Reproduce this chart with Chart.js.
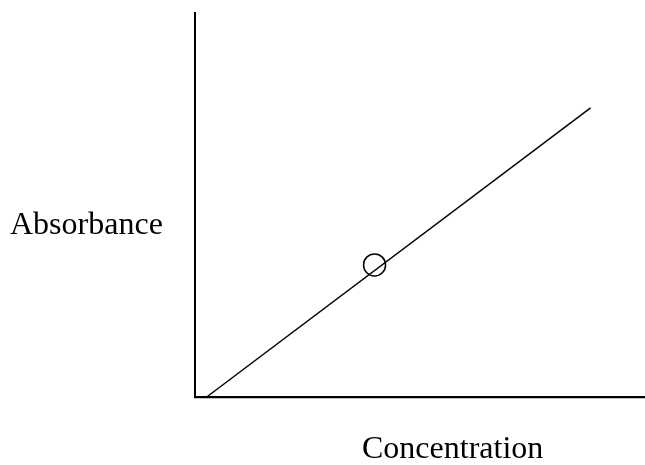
<!DOCTYPE html>
<html>
<head>
<meta charset="utf-8">
<script src="https://cdn.jsdelivr.net/npm/chart.js@4/dist/chart.umd.min.js"></script>
<style>
  html, body { margin: 0; padding: 0; background: #fff; }
  #wrap { position: relative; width: 645px; height: 465px; }
</style>
</head>
<body>
<div id="wrap"><canvas id="chart-abs" width="645" height="465"></canvas></div>
<script>
// calibration line (arbitrary units, axis runs 0..100)
const lineX = [2.6, 87.9];
const lineY = [0, 75.3];
// the unknown sample sitting on the line
const sampleX = [39.9];
const sampleY = [34.4];

const xTitle = 'Concentration';
const yTitle = 'Absorbance';

const FONT = '"Liberation Serif", "Times New Roman", serif';

// axis titles are plain horizontal text, Chart.js would rotate the y one
const labelsPlugin = {
  id: 'labels',
  afterDraw(chart) {
    const ctx = chart.ctx;
    ctx.save();
    ctx.fillStyle = '#000';
    ctx.font = '32px ' + FONT;
    ctx.textBaseline = 'alphabetic';
    ctx.textAlign = 'left';
    ctx.fillText(yTitle, 10, 234);
    ctx.fillText(xTitle, 362, 458);
    ctx.restore();
  }
};

const zeroFit = s => { if (s.isHorizontal()) s.height = 0; else s.width = 0; };

new Chart(document.getElementById('chart-abs'), {
  type: 'scatter',
  data: {
    datasets: [
      {
        type: 'line',
        data: lineX.map((x, i) => ({ x: x, y: lineY[i] })),
        borderColor: '#000',
        borderWidth: 1.5,
        pointRadius: 0,
        fill: false,
        clip: false
      },
      {
        data: sampleX.map((x, i) => ({ x: x, y: sampleY[i] })),
        backgroundColor: '#fff',
        borderColor: '#000',
        borderWidth: 1.5,
        pointRadius: 11,
        clip: false
      }
    ]
  },
  options: {
    responsive: false,
    animation: false,
    events: [],
    layout: { autoPadding: false, padding: { left: 195, top: 13, right: 0, bottom: 68 } },
    plugins: {
      legend: { display: false },
      tooltip: { enabled: false }
    },
    scales: {
      x: {
        type: 'linear', min: 0, max: 100,
        grid: { display: false },
        ticks: { display: false },
        border: { display: true, color: '#000', width: 2.2 },
        afterFit: zeroFit
      },
      y: {
        type: 'linear', min: 0, max: 100,
        grid: { display: false },
        ticks: { display: false },
        border: { display: true, color: '#000', width: 2 },
        afterFit: zeroFit
      }
    }
  },
  plugins: [labelsPlugin]
});
</script>
</body>
</html>
